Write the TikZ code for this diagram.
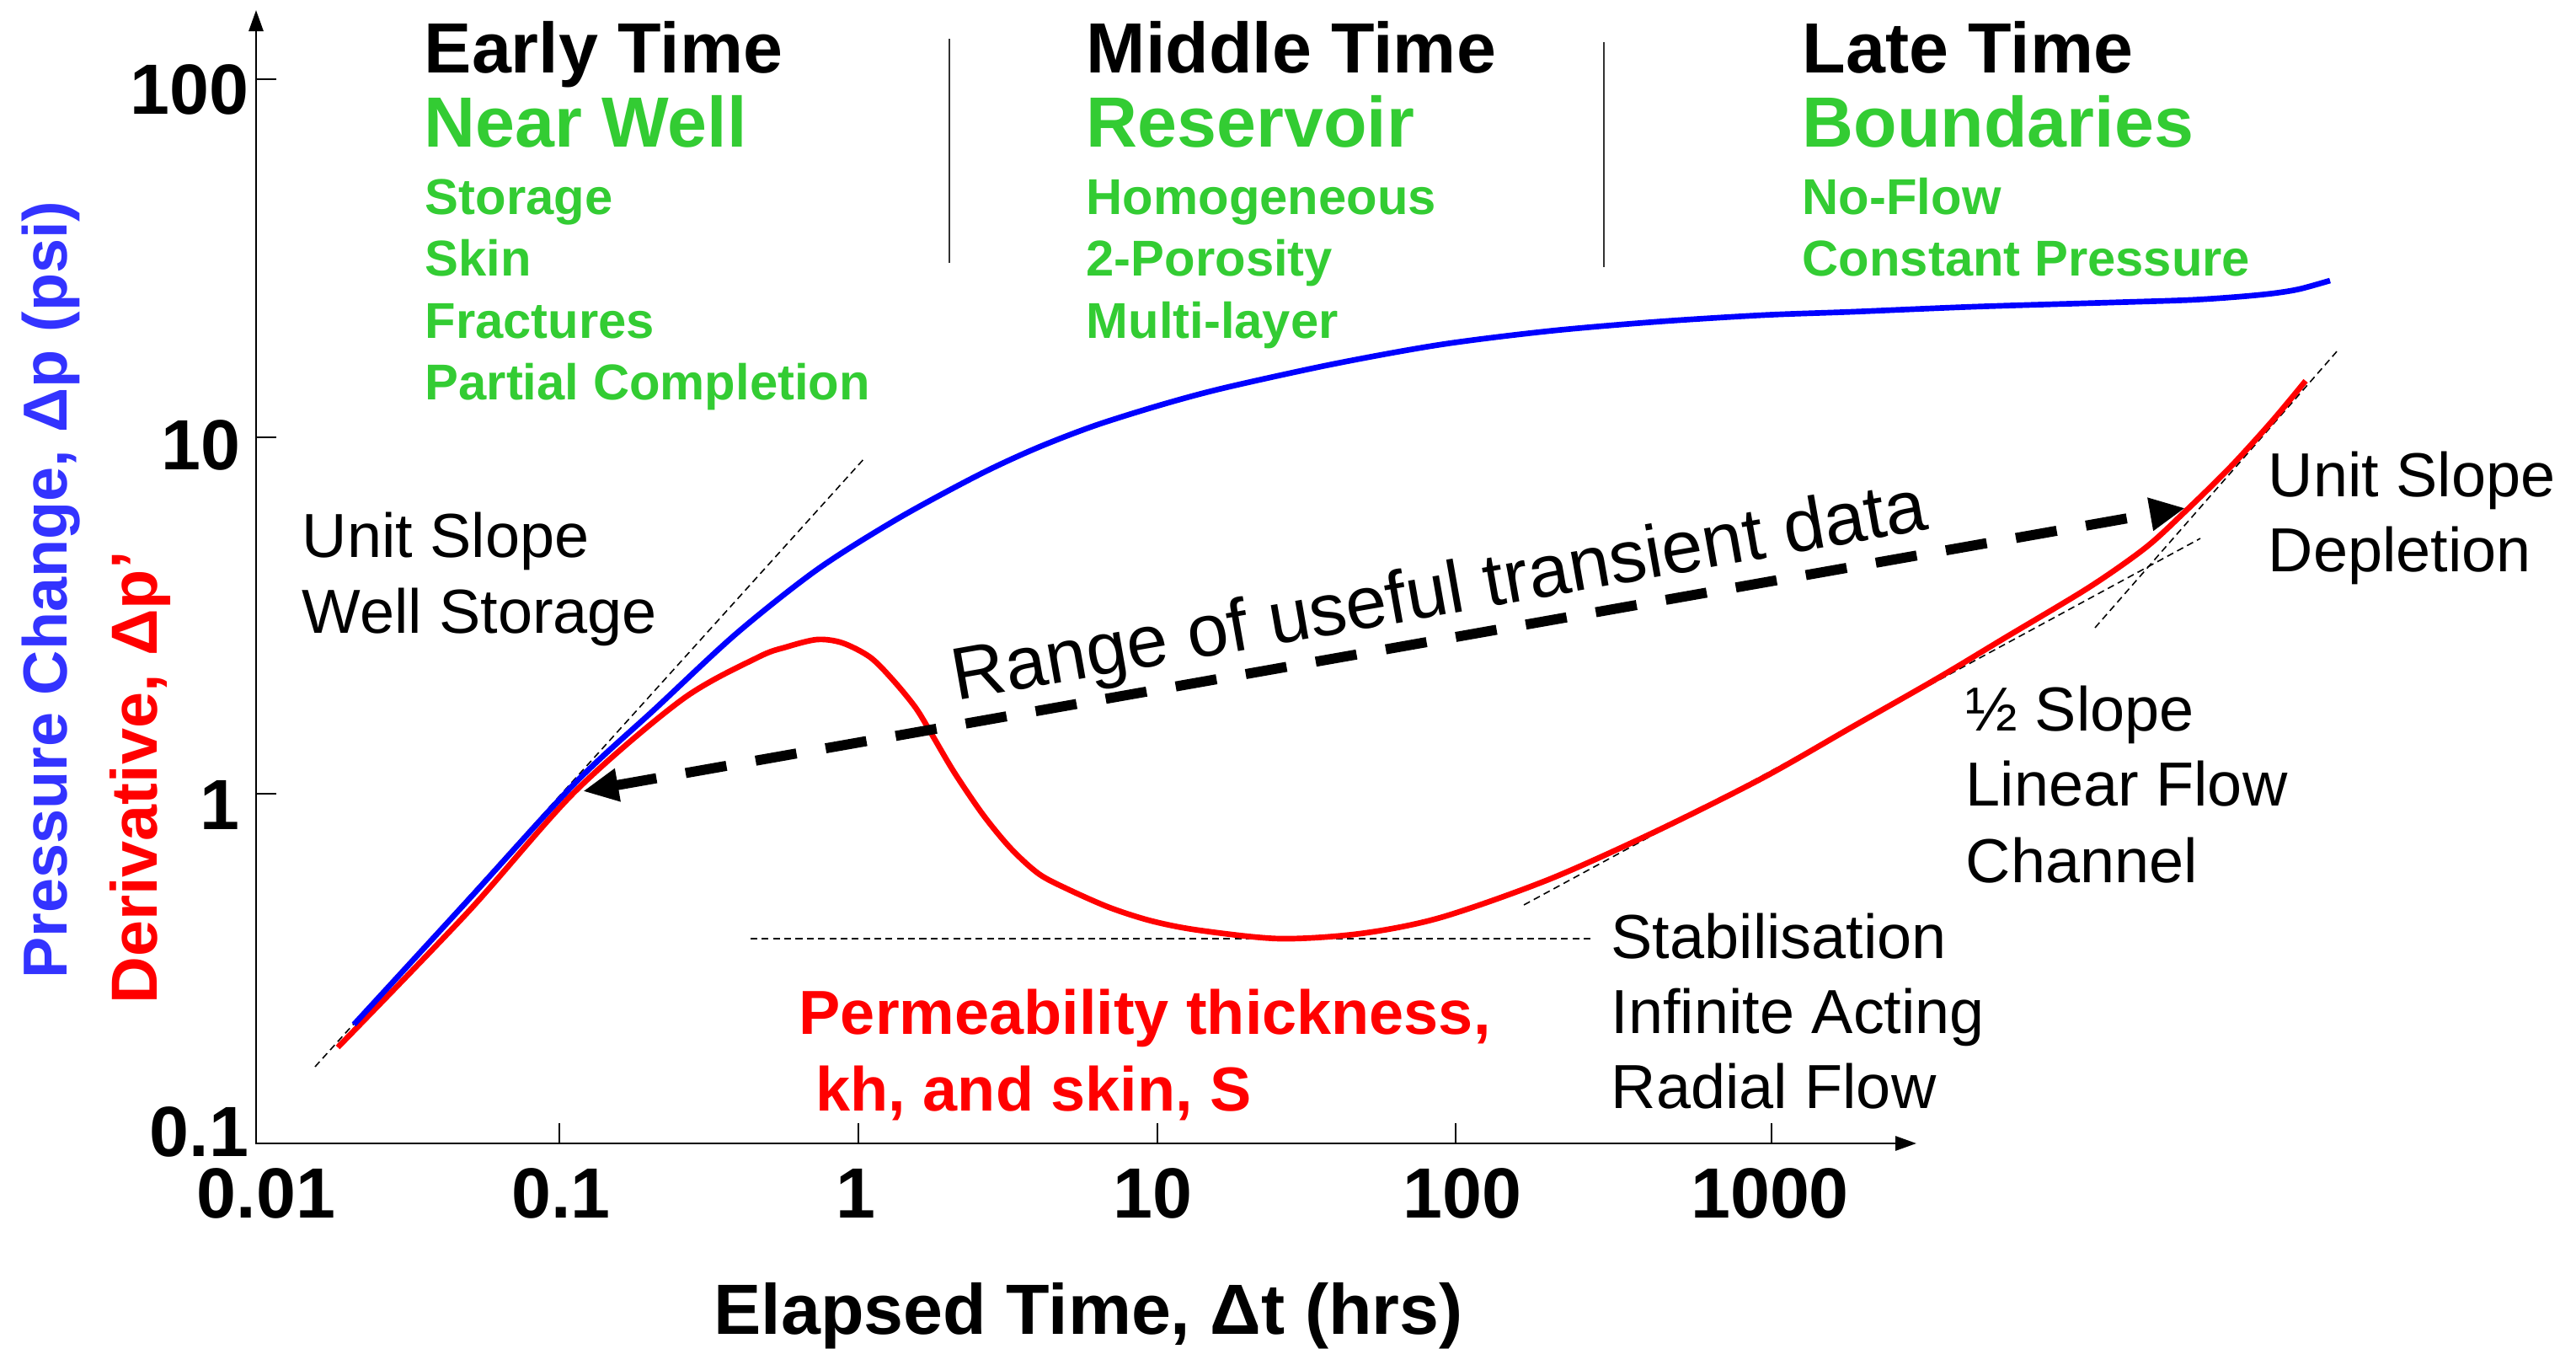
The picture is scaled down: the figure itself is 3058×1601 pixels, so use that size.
\documentclass[tikz,border=0pt]{standalone}
\usepackage{fontspec}
\setmainfont{Liberation Sans}
\usetikzlibrary{arrows.meta}
\definecolor{regime}{RGB}{51,204,51}
\definecolor{axisblue}{RGB}{51,51,255}
\tikzstyle{heading} = [font=\fontsize{24}{28}\selectfont\bfseries, anchor=base west, inner sep=0pt]
\tikzstyle{regimetitle} = [heading, text=regime]
\tikzstyle{regimeitem} = [font=\fontsize{17}{20}\selectfont\bfseries, text=regime, anchor=base west, inner sep=0pt]
\tikzstyle{slopenote} = [font=\fontsize{21}{25}\selectfont, anchor=base west, inner sep=0pt]
\tikzstyle{khnote} = [font=\fontsize{21}{25}\selectfont\bfseries, text=red, anchor=base west, inner sep=0pt]

\begin{document}
\begin{tikzpicture}[x=0.01cm, y=-0.01cm,
axisline/.style={line width=0.8pt, {Triangle[length=0.25cm,width=0.17cm]}-{Triangle[length=0.25cm,width=0.17cm]}},
tickmark/.style={line width=0.45pt},
ticklabel/.style={font=\fontsize{24}{28}\selectfont\bfseries, inner sep=0pt},
axislabel/.style={font=\fontsize{22}{26}\selectfont\bfseries, inner sep=0pt, anchor=base},
divider/.style={line width=0.5pt, black!80},
tangent/.style={line width=0.45pt, dash pattern=on 2.3pt off 1.5pt},
curve/.style={line width=1.9pt, line join=round, line cap=butt},
rangearrow/.style={line width=3.4pt, dash pattern=on 14pt off 10pt, {Triangle[length=0.42cm,width=0.37cm]}-{Triangle[length=0.42cm,width=0.37cm]}},
]
\useasboundingbox (0,0) rectangle (3058,1601);

%Axes
\coordinate (origin) at (304,1357);
\coordinate (ytop) at (304,12);
\coordinate (xend) at (2275,1357);
\draw[axisline] (ytop) -- (origin) -- (xend);
\foreach \x in {664,1019,1374,1728,2103} \draw[tickmark] (\x,1357) -- ++(0,-24);
\foreach \y in {94,519,942} \draw[tickmark] (304,\y) -- ++(24,0);
\foreach \x/\lab in {316/0.01, 666/0.1, 1016/1, 1368/10, 1736/100, 2101/1000}
  \node[ticklabel, anchor=base] at (\x,1445) {\lab};
\foreach \y/\r/\lab in {136/296/100, 558/286/10, 984/285/1, 1372/296/0.1}
  \node[ticklabel, anchor=base east] at (\r,\y) {\lab};
\node[axislabel, font=\fontsize{24}{28}\selectfont\bfseries] (xlabel) at (1292,1583) {Elapsed Time, Δt (hrs)};
\node[axislabel, font=\fontsize{21}{25}\selectfont\bfseries, text=axisblue, rotate=90] (plabel) at (79,700) {Pressure Change, Δp (psi)};
\node[axislabel, text=red, rotate=90] (dlabel) at (186,923) {Derivative, Δp’};

%Regimes
\node[heading] (early) at (503,87) {Early Time};
\node[regimetitle] (nearwell) at (503,175) {Near Well};
\node[regimeitem] (storage) at (504,255) {Storage};
\node[regimeitem] (skin) at (504,328) {Skin};
\node[regimeitem] (fractures) at (504,402) {Fractures};
\node[regimeitem] (partial) at (504,475) {Partial Completion};
\node[heading] (middle) at (1289,87) {Middle Time};
\node[regimetitle] (reservoir) at (1289,175) {Reservoir};
\node[regimeitem] (homog) at (1289,255) {Homogeneous};
\node[regimeitem] (porosity) at (1289,328) {2-Porosity};
\node[regimeitem] (multilayer) at (1289,402) {Multi-layer};
\node[heading] (late) at (2139,87) {Late Time};
\node[regimetitle] (boundaries) at (2139,175) {Boundaries};
\node[regimeitem] (noflow) at (2139,255) {No-Flow};
\node[regimeitem] (constp) at (2139,328) {Constant Pressure};
\draw[divider] (1127,46) -- (1127,312);
\draw[divider] (1904,50) -- (1904,317);

%Tangents
\draw[tangent] (374,1266) -- (1027,543);
\draw[tangent] (891,1114) -- (1893,1114);
\draw[tangent] (1809,1074) -- (2612,639);
\draw[tangent] (2487,745) -- (2775,416);

%Curves
\draw[curve, red] plot[smooth, tension=0.5] coordinates {(401,1243) (555,1083) (683,939) (810,830) (900,780) (933,768) (970,759) (1000,763) (1033,780) (1060,807) (1087,840) (1107,873) (1133,917) (1167,967) (1200,1007) (1233,1037) (1267,1055) (1317,1077) (1367,1093) (1423,1104) (1519,1114) (1615,1108) (1710,1089) (1838,1044) (1965,987) (2093,923) (2200,862) (2300,805) (2380,757) (2480,697) (2547,650) (2593,608) (2647,555) (2697,500) (2737,452)};
\draw[curve, blue] plot[smooth, tension=0.5] coordinates {(420,1216) (555,1069) (683,929) (778,841) (874,752) (970,676) (1065,616) (1161,564) (1230,532) (1300,505) (1380,480) (1455,460) (1583,432) (1710,409) (1838,393) (1965,382) (2093,374) (2200,370) (2344,364) (2507,359) (2600,356) (2660,352) (2700,348) (2730,343) (2766,333)};

%Range of useful data
\coordinate (rangestart) at (692,939);
\coordinate (rangeend) at (2594,603);
\draw[rangearrow] (rangestart) -- (rangeend);
\node[font=\fontsize{25}{30}\selectfont, rotate=10, anchor=base west, inner sep=0pt] (rangetext) at (1135,832) {Range of useful transient data};

%Notes
\node[slopenote] (unitslope) at (358,662) {Unit Slope};
\node[slopenote] (wellstorage) at (358,752) {Well Storage};
\node[slopenote] (unitslope2) at (2692,590) {Unit Slope};
\node[slopenote] (depletion) at (2692,679) {Depletion};
\node[slopenote] (halfslope) at (2333,867) {½ Slope};
\node[slopenote] (linearflow) at (2333,956) {Linear Flow};
\node[slopenote] (channel) at (2333,1047) {Channel};
\node[slopenote] (stabilisation) at (1912,1137) {Stabilisation};
\node[slopenote] (infinite) at (1912,1226) {Infinite Acting};
\node[slopenote] (radial) at (1912,1315) {Radial Flow};
\node[khnote] (permeability) at (948,1227) {Permeability thickness,};
\node[khnote] (khskin) at (968,1318) {kh, and skin, S};

\end{tikzpicture}
\end{document}
